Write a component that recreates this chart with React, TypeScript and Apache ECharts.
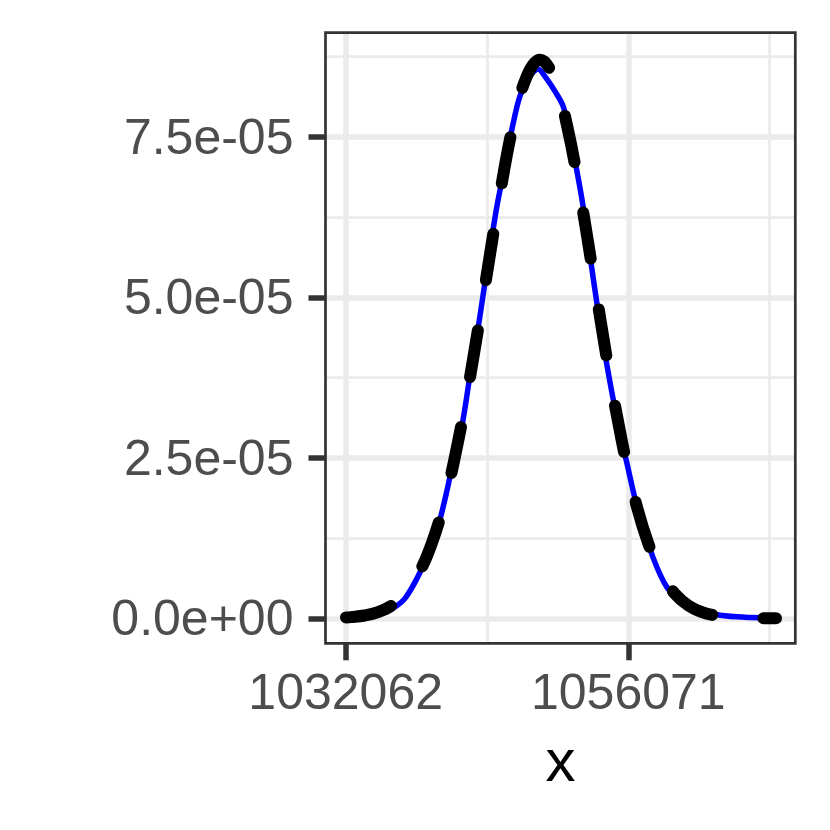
import React, { useEffect, useRef } from "react";
import * as echarts from "echarts";

// ---- data (x in original units, y in units of 1e-5) ----
const densityX = [
  1032090, 1033277, 1034976, 1036081, 1037100, 1038120, 1038969, 1039819, 1040668, 1041348,
  1041943, 1042622, 1043217, 1044067, 1044916, 1045596, 1046191, 1046871, 1047720, 1048400,
  1049079, 1049929, 1050524, 1050949, 1051543, 1052223, 1052818, 1053497, 1054262, 1055112,
  1055961, 1056896, 1058170, 1059360, 1060719, 1062163, 1063863, 1065987, 1068620,
];
const densityY = [
  0.008, 0.016, 0.062, 0.156, 0.311, 0.622, 0.965, 1.369, 1.991, 2.582,
  3.003, 3.78, 4.403, 5.445, 6.425, 7.047, 7.623, 8.136, 8.447, 8.556,
  8.416, 8.183, 7.981, 7.67, 7.125, 6.425, 5.647, 4.792, 3.936, 3.111,
  2.411, 1.68, 0.949, 0.482, 0.249, 0.124, 0.047, 0.016, 0.008,
];
const normalX = [
  1032090, 1032512, 1033659, 1034806, 1035953, 1037100, 1038247, 1039394, 1040541, 1041688,
  1042835, 1043982, 1045129, 1046276, 1047423, 1048570, 1049717, 1050864, 1052011, 1053158,
  1054305, 1055452, 1056599, 1057746, 1058893, 1060040, 1061187, 1062334, 1063481, 1064628,
  1065775, 1066922, 1068620,
];
const normalY = [
  0.014, 0.019, 0.044, 0.097, 0.198, 0.382, 0.692, 1.177, 1.882, 2.825,
  3.983, 5.277, 6.567, 7.678, 8.432, 8.7, 8.432, 7.678, 6.567, 5.277,
  3.983, 2.825, 1.882, 1.177, 0.692, 0.382, 0.198, 0.097, 0.044, 0.019,
  0.008, 0.003, 0.001,
];

const xBreaks = [1032062, 1056071];
const xBreakLabels = ["1032062", "1056071"];
const xMinorBreaks = [1044066.5, 1068075.5];
const yBreaks = [0, 2.5e-5, 5e-5, 7.5e-5];
const yBreakLabels = ["0.0e+00", "2.5e-05", "5.0e-05", "7.5e-05"];
const yMinorBreaks = [1.25e-5, 3.75e-5, 6.25e-5, 8.75e-5];

const X_RANGE = [1030346, 1070259];
const Y_RANGE = [-0.389e-5, 9.121e-5];
const xTitle = "x";

const FONT = "'Liberation Sans', Arial, Helvetica, sans-serif";

const GRID = { left: 325.5, right: 34.7, top: 32.7, bottom: 186.7 };

function labelFor(v: number, values: number[], labels: string[]) {
  let best = 0;
  let bd = Infinity;
  values.forEach((b, i) => {
    const d = Math.abs(b - v);
    if (d < bd) {
      bd = d;
      best = i;
    }
  });
  return labels[best];
}

export default function App() {
  const ref = useRef<HTMLDivElement>(null);

  useEffect(() => {
    if (!ref.current) return;
    const chart = echarts.init(ref.current, null, { renderer: "svg" });

    const major = { color: "#EBEBEB", width: 5.5, type: "solid" };
    const minor = { color: "#EBEBEB", width: 2.75, type: "solid" };
    const gridLines = [
      ...xMinorBreaks.map((v) => ({ xAxis: v, lineStyle: minor })),
      ...yMinorBreaks.map((v) => ({ yAxis: v, lineStyle: minor })),
      ...xBreaks.map((v) => ({ xAxis: v, lineStyle: major })),
      ...yBreaks.map((v) => ({ yAxis: v, lineStyle: major })),
    ];

    const plotW = 830 - GRID.left - GRID.right;
    const plotH = 830 - GRID.top - GRID.bottom;

    chart.setOption({
      animation: false,
      backgroundColor: "#ffffff",
      grid: { ...GRID, containLabel: false, show: false },
      xAxis: {
        type: "value",
        position: "bottom",
        min: X_RANGE[0],
        max: X_RANGE[1],
        name: xTitle,
        nameLocation: "middle",
        nameGap: 87,
        nameTextStyle: { fontSize: 60, color: "#000000", fontFamily: FONT, lineHeight: 60 },
        axisLine: { show: false, onZero: false },
        axisTick: {
          show: true,
          customValues: xBreaks,
          length: 17,
          lineStyle: { color: "#333333", width: 5.5 },
        },
        axisLabel: {
          customValues: xBreaks,
          margin: 24,
          fontSize: 50,
          lineHeight: 50,
          color: "#4D4D4D",
          fontFamily: FONT,
          formatter: (v: number) => labelFor(v, xBreaks, xBreakLabels),
        },
        splitLine: { show: false },
      },
      yAxis: {
        type: "value",
        position: "left",
        min: Y_RANGE[0],
        max: Y_RANGE[1],
        axisLine: { show: false, onZero: false },
        axisTick: {
          show: true,
          customValues: yBreaks,
          length: 17,
          lineStyle: { color: "#333333", width: 5.5 },
        },
        axisLabel: {
          customValues: yBreaks,
          margin: 32,
          fontSize: 50,
          color: "#4D4D4D",
          fontFamily: FONT,
          formatter: (v: number) => labelFor(v, yBreaks, yBreakLabels),
        },
        splitLine: { show: false },
      },
      series: [
        {
          type: "line",
          name: "density",
          data: densityX.map((x, i) => [x, densityY[i] * 1e-5]),
          showSymbol: false,
          smooth: 0.3,
          z: 3,
          lineStyle: { color: "#0000FF", width: 5.5, cap: "round", join: "round" },
          markLine: {
            silent: true,
            symbol: ["none", "none"],
            label: { show: false },
            precision: 12,
            z: 1,
            data: gridLines,
          },
        },
        {
          type: "line",
          name: "normal",
          data: normalX.map((x, i) => [x, normalY[i] * 1e-5]),
          showSymbol: false,
          smooth: 0.4,
          z: 4,
          lineStyle: { color: "#000000", width: 12, type: [47, 51], cap: "round", join: "round" },
        },
      ],
      graphic: [
        {
          type: "rect",
          silent: true,
          z: 100,
          shape: { x: GRID.left, y: GRID.top, width: plotW, height: plotH },
          style: { fill: "none", stroke: "#333333", lineWidth: 2.7 },
        },
      ],
    });

    return () => chart.dispose();
  }, []);

  return (
    <div
      ref={ref}
      style={{ position: "fixed", left: 0, top: 0, width: 830, height: 830, background: "#fff" }}
    />
  );
}
